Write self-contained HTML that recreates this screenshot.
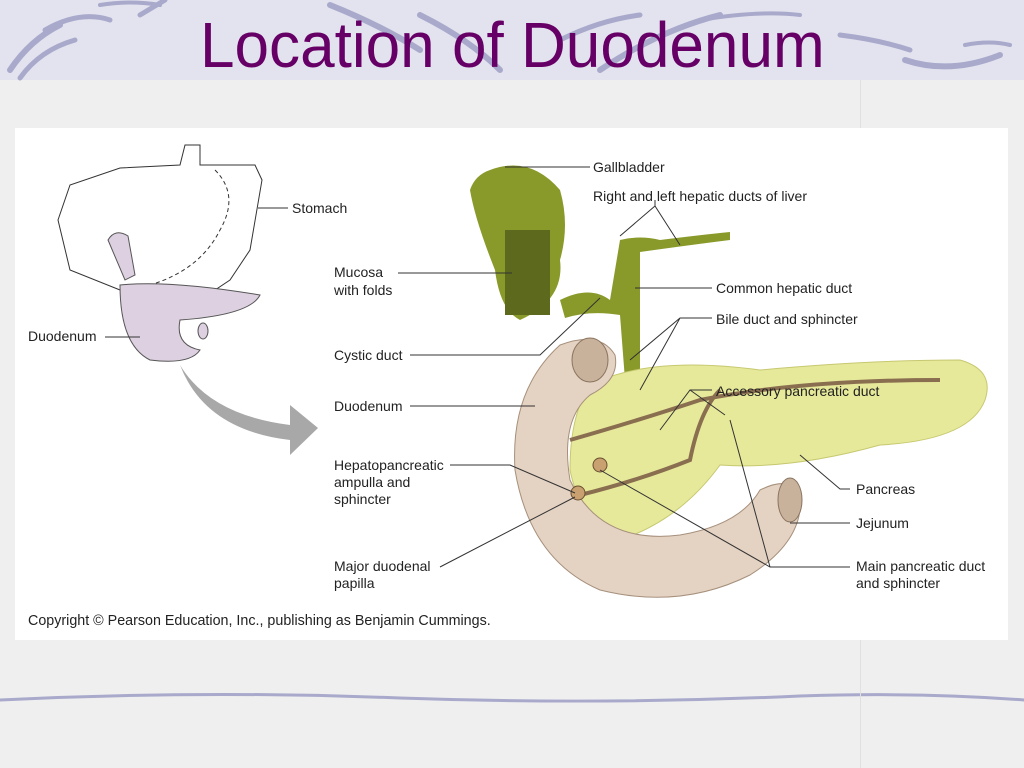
<!DOCTYPE html>
<html><head><meta charset="utf-8"><style>
html,body{margin:0;padding:0}
body{width:1024px;height:768px;overflow:hidden;background:#efefef;position:relative;font-family:"Liberation Sans",sans-serif}
.hdr{position:absolute;left:0;top:0;width:1024px;height:80px;background:#e3e3ef}
.title{position:absolute;left:200px;top:8px;font-size:64px;color:#660066;white-space:nowrap;transform:scaleX(0.97);transform-origin:0 0}
.vline{position:absolute;left:860px;top:80px;width:1px;height:688px;background:#e0e0e0}
.panel{position:absolute;left:15px;top:128px;width:993px;height:512px;background:#fff}
svg text{font-family:"Liberation Sans",sans-serif;font-size:14px;fill:#222}
</style></head><body>
<div class="hdr"></div>
<svg style="position:absolute;left:0;top:0" width="1024" height="768">
 <g fill="none" stroke="#a9a9cc" stroke-linecap="round">
  <path d="M10 70 Q30 40 60 25" stroke-width="6"/>
  <path d="M20 78 Q40 50 75 40" stroke-width="5"/>
  <path d="M45 30 Q80 10 110 20" stroke-width="5"/>
  <path d="M100 5 Q130 0 160 5" stroke-width="4"/>
  <path d="M140 15 L165 0" stroke-width="5"/>
  <path d="M330 5 Q380 25 420 50" stroke-width="6"/>
  <path d="M420 15 Q470 40 500 70" stroke-width="6"/>
  <path d="M560 40 Q600 20 640 15" stroke-width="5"/>
  <path d="M600 70 Q660 30 720 15" stroke-width="6"/>
  <path d="M700 20 Q760 10 800 15" stroke-width="4"/>
  <path d="M840 35 Q880 40 910 50" stroke-width="5"/>
  <path d="M905 60 Q950 75 1000 55" stroke-width="6"/>
  <path d="M965 45 Q990 40 1010 45" stroke-width="4"/>
  <path d="M0 700 Q200 690 400 698 Q600 705 800 696 Q920 692 1024 700" stroke-width="3"/>
 </g>
</svg>
<div class="title">Location of Duodenum</div>
<div class="vline"></div>
<div class="panel"></div>
<svg style="position:absolute;left:0;top:0" width="1024" height="768">
 <g fill="none" stroke="#333" stroke-width="1">
  <path d="M185 145 L200 145 L200 165 L255 165 L262 180 L250 250 L230 280 L200 300 L120 290 L70 270 L58 220 L70 185 L120 168 L180 165 Z"/>
  <path d="M215 170 Q240 195 220 230 Q200 270 150 285" stroke-dasharray="4 3"/>
 </g>
 <path d="M120 285 Q170 280 260 295 Q250 315 180 320 Q175 345 200 350 Q190 365 150 360 Q120 345 120 285Z" fill="#ddd0e0" stroke="#555"/>
 <path d="M108 240 Q115 228 128 236 L135 275 L125 280 Z" fill="#ddd0e0" stroke="#555"/>
 <ellipse cx="203" cy="331" rx="5" ry="8" fill="#ddd0e0" stroke="#555"/>
 <path d="M180 365 Q210 415 290 425 L290 405 L318 428 L290 455 L290 440 Q205 430 180 365Z" fill="#a8a8a8"/>
 <path d="M490 170 Q530 155 560 190 Q570 225 560 260 Q565 300 520 320 Q500 310 495 270 Q475 220 470 190 Q475 175 490 170Z" fill="#8a9a2a"/>
 <rect x="505" y="230" width="45" height="85" fill="#5d6a1e"/>
 <path d="M560 300 Q590 285 610 300 L620 240 Q640 235 660 240 Q700 235 730 232 L730 240 Q690 245 640 252 L640 380 L625 380 L620 315 Q590 310 565 318Z" fill="#8a9a2a"/>
 <path d="M590 385 Q650 355 760 370 Q870 360 960 360 Q995 370 985 400 Q970 440 880 445 Q790 470 720 465 Q680 520 620 540 Q580 520 570 470 Q570 415 590 385Z" fill="#e6e99a" stroke="#c7c870"/>
 <path d="M560 345 Q600 330 615 355 Q620 380 590 395 Q560 420 570 480 Q600 545 680 535 Q740 525 760 490 Q790 475 800 495 Q805 540 750 575 Q680 610 600 590 Q530 560 515 470 Q510 390 560 345Z" fill="#e4d2c2" stroke="#a6907c"/>
 <ellipse cx="590" cy="360" rx="18" ry="22" fill="#c9b29c" stroke="#8a7460"/>
 <ellipse cx="790" cy="500" rx="12" ry="22" fill="#c9b29c" stroke="#8a7460"/>
 <g fill="none" stroke="#8a6e50" stroke-width="4">
  <path d="M570 440 Q640 420 700 400 Q800 380 940 380"/>
  <path d="M580 495 Q640 480 690 460 Q700 410 720 390"/>
 </g>
 <circle cx="578" cy="493" r="7" fill="#c9a070" stroke="#6a5030"/>
 <circle cx="600" cy="465" r="7" fill="#c9a070" stroke="#6a5030"/>
 <g stroke="#333" stroke-width="1" fill="none">
  <path d="M258 208 L288 208"/><path d="M105 337 L140 337"/>
  <path d="M505 167 L590 167"/><path d="M620 236 L655 206 L680 245 M655 206 L655 200"/>
  <path d="M398 273 L512 273"/><path d="M410 355 L540 355 L600 298"/>
  <path d="M635 288 L712 288"/><path d="M630 360 L680 318 L712 318 M680 318 L640 390"/>
  <path d="M410 406 L535 406"/><path d="M660 430 L690 390 L712 390 M690 390 L725 415"/>
  <path d="M450 465 L510 465 L575 493"/><path d="M440 567 L575 497"/>
  <path d="M800 455 L840 489 L850 489"/><path d="M790 523 L850 523"/>
  <path d="M600 470 L770 567 L850 567 M770 567 L730 420"/>
 </g>
 <text x="292" y="213">Stomach</text>
 <text x="28" y="341">Duodenum</text>
 <text x="593" y="172">Gallbladder</text>
 <text x="593" y="201">Right and left hepatic ducts of liver</text>
 <text x="334" y="277">Mucosa</text><text x="334" y="295">with folds</text>
 <text x="716" y="293">Common hepatic duct</text>
 <text x="716" y="324">Bile duct and sphincter</text>
 <text x="334" y="360">Cystic duct</text>
 <text x="716" y="396">Accessory pancreatic duct</text>
 <text x="334" y="411">Duodenum</text>
 <text x="334" y="470">Hepatopancreatic</text><text x="334" y="487">ampulla and</text><text x="334" y="504">sphincter</text>
 <text x="856" y="494">Pancreas</text>
 <text x="856" y="528">Jejunum</text>
 <text x="334" y="571">Major duodenal</text><text x="334" y="588">papilla</text>
 <text x="856" y="571">Main pancreatic duct</text><text x="856" y="588">and sphincter</text>
 <text x="28" y="625" style="font-size:14.3px">Copyright © Pearson Education, Inc., publishing as Benjamin Cummings.</text>
</svg>
</body></html>
